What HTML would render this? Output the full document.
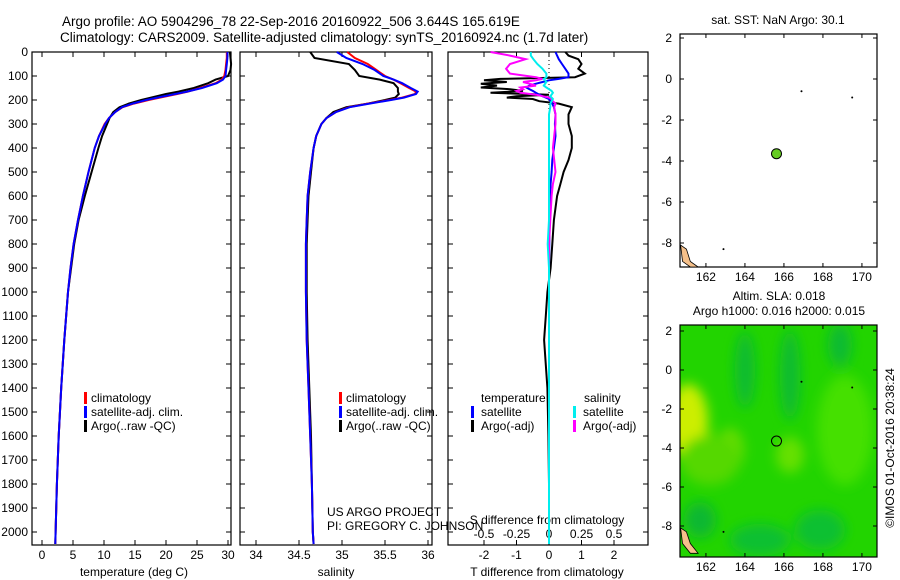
<!DOCTYPE html>
<html><head><meta charset="utf-8"><style>
html,body{margin:0;padding:0;background:#fff;}
svg{display:block;font-family:"Liberation Sans",sans-serif;}
text{font-size:12px;fill:#000;}
</style></head><body>
<svg id="c" width="900" height="580" viewBox="0 0 900 580" xmlns="http://www.w3.org/2000/svg">
<text x="62" y="26" style="font-size:13.5px">Argo profile: AO 5904296_78 22-Sep-2016 20160922_506 3.644S 165.619E</text>
<text x="60" y="42" style="font-size:13.5px">Climatology: CARS2009. Satellite-adjusted climatology: synTS_20160924.nc (1.7d later)</text>
<g id="g"></g>
</svg>
<script>
// ---- data ----
const depth = [0,25,50,75,100,115,130,150,165,175,190,200,215,230,250,275,300,350,400,500,600,700,800,900,1000,1200,1400,1600,1800,2000,2050];
const tempClim = [29.8,29.8,29.7,29.6,29.4,29.0,28.0,25.5,23.5,21.8,19.0,17.2,14.8,13.0,11.8,10.8,10.1,9.2,8.5,7.5,6.6,5.8,5.1,4.6,4.2,3.6,3.1,2.7,2.4,2.2,2.15];
const tempSat  = [29.9,29.9,29.8,29.7,29.6,29.2,28.2,25.8,23.4,21.5,18.6,16.8,14.6,12.9,11.8,10.8,10.2,9.2,8.5,7.5,6.6,5.8,5.1,4.6,4.2,3.6,3.1,2.7,2.4,2.2,2.15];
const tempArgo = [30.3,30.4,30.5,30.4,30.0,28.0,26.8,24.5,22.0,20.0,17.6,16.0,14.0,12.5,11.5,10.9,10.5,9.7,9.1,8.0,6.9,5.9,5.2,4.7,4.2,3.6,3.1,2.7,2.4,2.2,2.15];
const salClim = [35.06,35.15,35.30,35.40,35.50,35.60,35.68,35.78,35.86,35.85,35.70,35.55,35.30,35.08,34.93,34.82,34.76,34.70,34.67,34.63,34.60,34.59,34.58,34.58,34.58,34.59,34.61,34.63,34.65,34.66,34.67];
const salSat  = [34.94,35.05,35.24,35.38,35.48,35.60,35.70,35.80,35.88,35.86,35.72,35.57,35.32,35.09,34.93,34.82,34.76,34.70,34.67,34.63,34.60,34.59,34.58,34.58,34.58,34.59,34.61,34.63,34.65,34.66,34.67];
const salArgo = [34.63,34.68,35.08,35.15,35.20,35.44,35.60,35.65,35.65,35.66,35.62,35.50,35.30,35.05,34.90,34.82,34.76,34.70,34.67,34.64,34.61,34.60,34.59,34.59,34.59,34.60,34.62,34.64,34.65,34.66,34.67];
const dDepth = [0,15,30,50,70,90,105,112,118,125,132,140,148,155,162,170,178,184,190,196,205,215,230,260,300,350,400,450,500,550,600,700,800,900,1000,1100,1200,1400,1600,1800,2000,2050];
const dTSat  = [0.2,0.25,0.3,0.4,0.5,0.6,0.6,0.3,0.0,-0.2,-0.4,-0.6,-0.7,-0.6,-0.5,-0.4,-0.3,-0.2,-0.1,0,0.05,0.1,0.15,0.2,0.18,0.2,0.15,0.1,0.08,0.05,0.03,0.02,0.01,0,0,0,0,0,0,0,0,0];
const dTArgo = [0.5,0.6,0.9,1.0,0.9,1.1,0.8,-1.5,-2.0,-1.3,-2.1,-1.6,-2.1,-1.2,-0.8,-1.8,0.0,-1.0,-1.3,-0.5,-0.3,0.3,0.7,0.6,0.6,0.7,0.7,0.6,0.45,0.35,0.25,0.15,0.1,0.05,-0.05,-0.1,-0.15,-0.05,-0.02,0,0,0];
const dSSat  = [-0.14,-0.14,-0.12,-0.09,-0.05,-0.02,-0.02,-0.04,-0.03,-0.02,-0.03,-0.04,-0.02,0.0,0.02,0.03,0.02,0.01,0.02,0.03,0.02,0.01,0.01,0.0,0.0,0.0,0.0,0.0,0.0,0.0,0.0,0.0,-0.01,0,0,0,0,0,0,0,0,0];
const dSArgo = [-0.45,-0.3,-0.18,-0.3,-0.33,-0.3,-0.1,-0.05,-0.1,-0.2,-0.15,-0.1,-0.22,-0.2,-0.25,-0.22,-0.1,-0.05,0.0,0.02,0.03,0.05,0.04,0.05,0.05,0.04,0.03,0.04,0.05,0.03,0.02,0.01,0.0,0,0,0,0,0,0,0,0,0];
const depthTicks = [0,100,200,300,400,500,600,700,800,900,1000,1100,1200,1300,1400,1500,1600,1700,1800,1900,2000];
const tempTicks = [0,5,10,15,20,25,30];
const salTicks = [34,34.5,35,35.5,36];
const dTTicks = [-2,-1,0,1,2];
const dSTicks = [-0.5,-0.25,0,0.25,0.5];
const lonTicks = [162,164,166,168,170];
const latTicks = [2,0,-2,-4,-6,-8];
const floatLon = 165.619, floatLat = -3.644;

// ---- helpers ----
const NS="http://www.w3.org/2000/svg", G=document.getElementById('g');
function el(t,a,p){const e=document.createElementNS(NS,t);for(const k in a)e.setAttribute(k,a[k]);(p||G).appendChild(e);return e;}
function txt(s,x,y,anchor,name,extra){const e=el('text',Object.assign({x:x,y:y,'text-anchor':anchor||'start'},extra||{}));e.textContent=s;


return e;}
const yD = d => 52 + d*0.24;
function panel(x0,x1,name){const r=el('rect',{x:x0,y:52,width:x1-x0,height:493,fill:'none',stroke:'#000','stroke-width':1.2});

}
function line(xs,ys,sx,col,name,w){const pts=xs.map((v,i)=>sx(v).toFixed(1)+','+yD(ys[i]).toFixed(1)).join(' ');
const p=el('polyline',{points:pts,fill:'none',stroke:col,'stroke-width':w||2});

}

// Panel 1
const xT = v => 42 + v*6.2;
panel(32,231,'temperature-panel');
depthTicks.forEach(d=>{el('line',{x1:32,y1:yD(d),x2:37,y2:yD(d),stroke:'#000'});el('line',{x1:226,y1:yD(d),x2:231,y2:yD(d),stroke:'#000'});txt(String(d),28,yD(d)+4,'end','depth-tick-label');});
tempTicks.forEach(v=>{el('line',{x1:xT(v),y1:545,x2:xT(v),y2:540,stroke:'#000'});el('line',{x1:xT(v),y1:52,x2:xT(v),y2:57,stroke:'#000'});txt(String(v),xT(v),559,'middle','temp-tick-label');});
txt('temperature (deg C)',134,576,'middle','x-axis-title-temperature');
line(tempArgo,depth,xT,'#000','temp-argo-line');
line(tempClim,depth,xT,'#f00','temp-clim-line');
line(tempSat,depth,xT,'#00f','temp-sat-line');

// Panel 2
const xS = v => 256 + (v-34)*86;
panel(240,432,'salinity-panel');
depthTicks.forEach(d=>{el('line',{x1:240,y1:yD(d),x2:245,y2:yD(d),stroke:'#000'});el('line',{x1:427,y1:yD(d),x2:432,y2:yD(d),stroke:'#000'});});
salTicks.forEach(v=>{el('line',{x1:xS(v),y1:545,x2:xS(v),y2:540,stroke:'#000'});el('line',{x1:xS(v),y1:52,x2:xS(v),y2:57,stroke:'#000'});txt(String(v),xS(v),559,'middle','sal-tick-label');});
txt('salinity',336,576,'middle','x-axis-title-salinity');
line(salArgo,depth,xS,'#000','sal-argo-line');
line(salClim,depth,xS,'#f00','sal-clim-line');
line(salSat,depth,xS,'#00f','sal-sat-line');

// Panel 3
const xDT = v => 549 + v*32.5, xDS = v => 549 + v*130;
panel(448,648,'difference-panel');
depthTicks.forEach(d=>{el('line',{x1:448,y1:yD(d),x2:453,y2:yD(d),stroke:'#000'});el('line',{x1:643,y1:yD(d),x2:648,y2:yD(d),stroke:'#000'});});
dTTicks.forEach(v=>{el('line',{x1:xDT(v),y1:545,x2:xDT(v),y2:540,stroke:'#000'});el('line',{x1:xDT(v),y1:52,x2:xDT(v),y2:57,stroke:'#000'});txt(String(v),xDT(v),559,'middle','dT-tick-label');});
dSTicks.forEach(v=>{txt(String(v),xDS(v),538,'middle','dS-tick-label');});
el('line',{x1:549,y1:52,x2:549,y2:545,stroke:'#000','stroke-dasharray':'1,3'});
txt('T difference from climatology',547,576,'middle','x-axis-title-dT');
txt('S difference from climatology',547,524,'middle','x-axis-title-dS');
line(dTArgo,dDepth,xDT,'#000','dT-argo-line');
line(dTSat,dDepth,xDT,'#00f','dT-sat-line');
line(dSArgo,dDepth,xDS,'#f0f','dS-argo-line');
line(dSSat,dDepth,xDS,'#0ee','dS-sat-line');

// legends
function legMark(x,y,c){const r=el('rect',{x:x,y:y-10,width:3,height:12,fill:c});

}
[['climatology','#f00'],['satellite-adj. clim.','#00f'],['Argo(..raw -QC)','#000']].forEach((l,i)=>{
  legMark(84,402+i*14,l[1]);txt(l[0],91,402+i*14,'start','legend-entry-temp');
  legMark(339,402+i*14,l[1]);txt(l[0],346,402+i*14,'start','legend-entry-sal');});
txt('temperature',481,402,'start','legend-header-temperature');txt('salinity',584,402,'start','legend-header-salinity');
legMark(471,416,'#00f');txt('satellite',481,416,'start','legend-entry-dT-sat');
legMark(471,430,'#000');txt('Argo(-adj)',481,430,'start','legend-entry-dT-argo');
legMark(573,416,'#0ee');txt('satellite',583,416,'start','legend-entry-dS-sat');
legMark(573,430,'#f0f');txt('Argo(-adj)',583,430,'start','legend-entry-dS-argo');
txt('US ARGO PROJECT',327,516,'start','project-label');
txt('PI: GREGORY C. JOHNSON',327,530,'start','pi-label');

// Maps
const mx = v => 680 + (v-160.67)*19.5;
function map(y0,y1,name,latPx,lat0){
  const my = v => lat0 - v*latPx;
  const r=el('rect',{x:680,y:y0,width:197,height:y1-y0,fill:'none',stroke:'#000','stroke-width':1.2});
  
  
  lonTicks.forEach(v=>{el('line',{x1:mx(v),y1:y1,x2:mx(v),y2:y1-4,stroke:'#000'});el('line',{x1:mx(v),y1:y0,x2:mx(v),y2:y0+4,stroke:'#000'});txt(String(v),mx(v),y1+14,'middle','lon-tick-label');});
  latTicks.forEach(v=>{el('line',{x1:680,y1:my(v),x2:684,y2:my(v),stroke:'#000'});el('line',{x1:873,y1:my(v),x2:877,y2:my(v),stroke:'#000'});txt(String(v),672,my(v)+4,'end','lat-tick-label');});
  return my;
}
// map 2 background field
const defs=el('defs',{});
const f=el('filter',{id:'bl',x:'-50%',y:'-50%',width:'200%',height:'200%'},defs);el('feGaussianBlur',{stdDeviation:6},f);
const cp=el('clipPath',{id:'cp2'},defs);el('rect',{x:680,y:325,width:197,height:232},cp);
const bg=el('g',{'clip-path':'url(#cp2)'});


el('rect',{x:680,y:325,width:197,height:232,fill:'#22d400'},bg);
const fg=el('g',{filter:'url(#bl)'},bg);
[[688,422,20,38,'#ccee00'],[730,450,14,22,'#66dd00'],[710,460,30,25,'#55d800'],[790,455,14,18,'#66e000'],[845,430,28,55,'#44e000'],
 [745,370,10,38,'#11bb33'],[790,375,10,45,'#11bb33'],[840,345,12,22,'#11bb33'],[820,530,25,20,'#11c030'],[760,540,30,16,'#11c030'],[700,520,16,18,'#11b830']]
 .forEach(e=>el('ellipse',{cx:e[0],cy:e[1],rx:e[2],ry:e[3],fill:e[4]},fg));
const my1 = map(34,267,'sst-map',20.5,79);
const my2 = map(325,557,'sla-map',19.5,370);
// land (New Caledonia tip)
[[my1,267],[my2,557]].forEach(m=>{const yy=m[0];
  const p=el('polygon',{points:[[160.7,-8.1],[161.0,-8.3],[161.2,-8.9],[161.6,-9.4],[161.2,-9.4],[160.8,-8.9]].map(q=>mx(q[0])+','+Math.min(yy(q[1]),m[1])).join(' '),fill:'#f5c08a',stroke:'#000','stroke-width':0.8});
  
  
  [[166.9,-0.6],[169.5,-0.9],[162.9,-8.3]].forEach(q=>el('circle',{cx:mx(q[0]),cy:yy(q[1]),r:1,fill:'#000'}));});
const fc=el('circle',{cx:mx(floatLon),cy:my1(floatLat),r:5,fill:'#66cc22',stroke:'#000'});


const fc2=el('circle',{cx:mx(floatLon),cy:my2(floatLat),r:5,fill:'none',stroke:'#000'});


txt('sat. SST: NaN Argo: 30.1',778,24,'middle','sst-map-title');
txt('Altim. SLA: 0.018',779,300,'middle','sla-map-title-1');
txt('Argo h1000: 0.016 h2000: 0.015',779,315,'middle','sla-map-title-2');
txt('©IMOS 01-Oct-2016 20:38:24',894,448,'middle','timestamp',{transform:'rotate(-90 894 448)'});
</script>
</body></html>
